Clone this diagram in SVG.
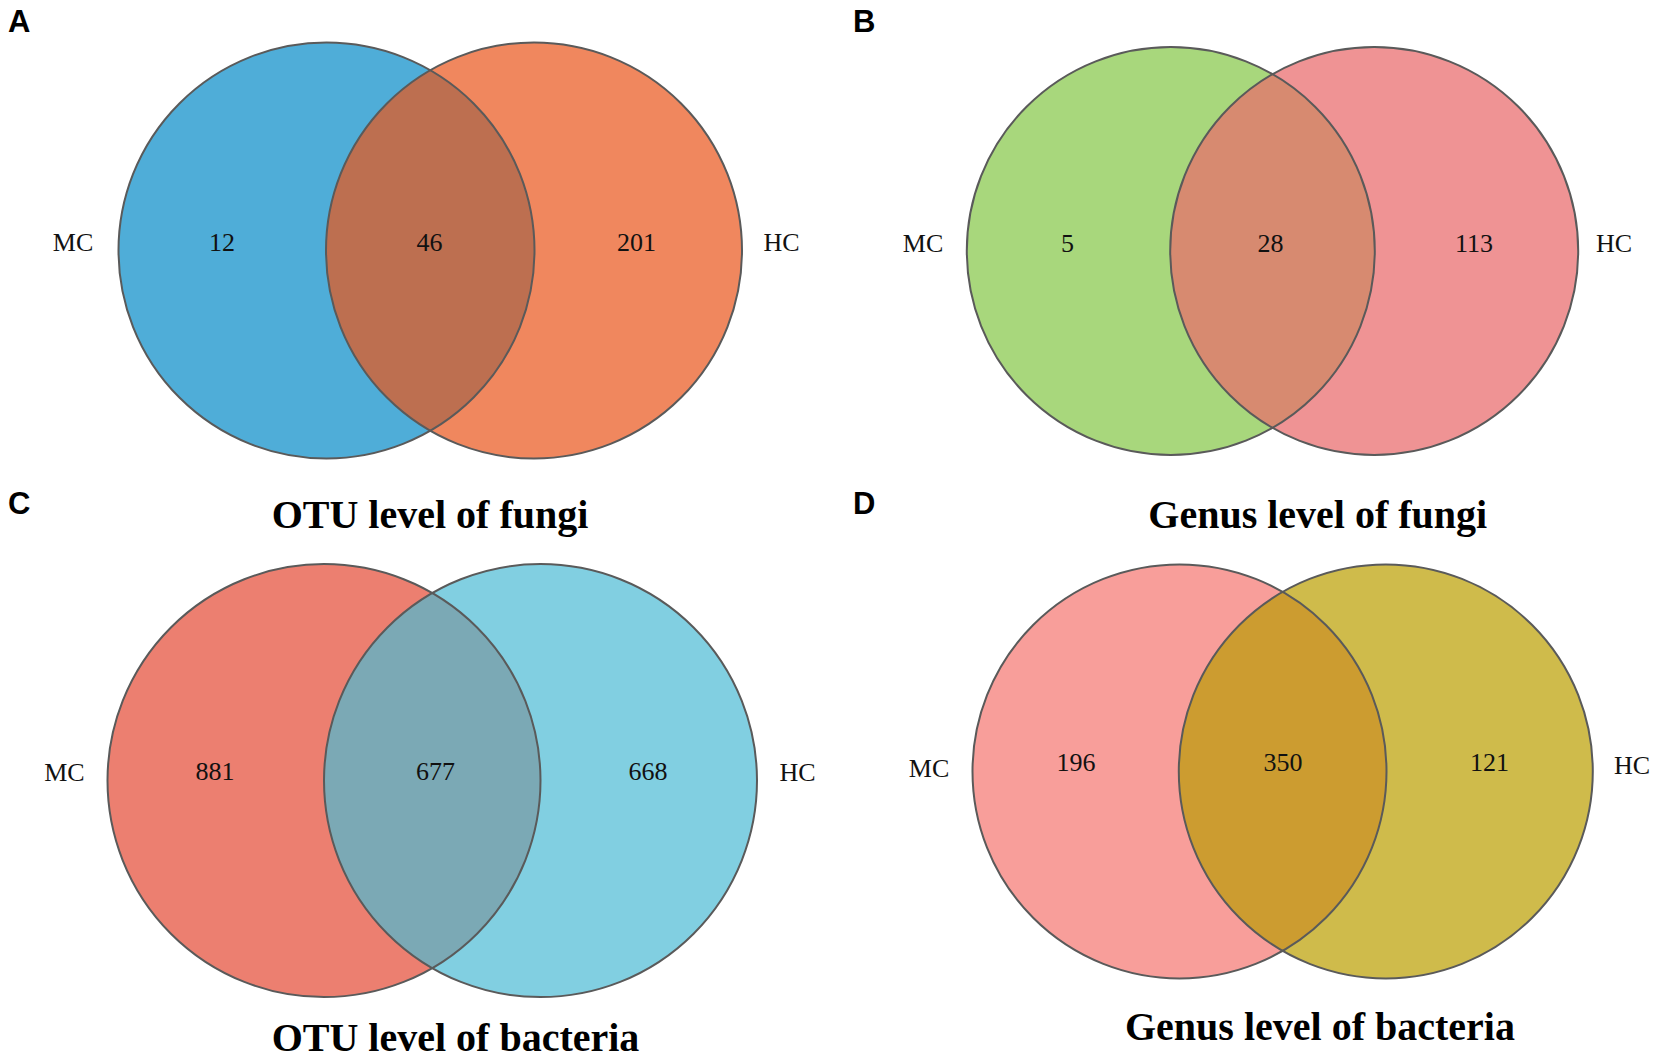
<svg xmlns="http://www.w3.org/2000/svg" width="1653" height="1059" viewBox="0 0 1653 1059">
<style>
.bg{fill:#ffffff}
.ring{fill:none;stroke:#5a5a5a;stroke-width:2}
.lbl{font-family:"Liberation Serif","Times New Roman",serif;font-size:26px;fill:#111;text-anchor:middle}
.ttl{font-family:"Liberation Serif","Times New Roman",serif;font-size:40px;font-weight:bold;fill:#000}
.pl{font-family:"Liberation Sans",Arial,sans-serif;font-size:31px;font-weight:bold;fill:#000}
</style>
<rect class="bg" x="0" y="0" width="1653" height="1059"/>

<g id="panelA">
<circle cx="326.5" cy="250.5" r="208" fill="#4fadd8"/>
<circle cx="534" cy="250.5" r="208" fill="#f0875e"/>
<path d="M430.25,70.22 A208,208 0 0 1 430.25,430.78 A208,208 0 0 1 430.25,70.22 Z" fill="#bd6f50"/>
<circle class="ring" cx="326.5" cy="250.5" r="208"/>
<circle class="ring" cx="534" cy="250.5" r="208"/>
<text class="pl" x="8" y="31.5">A</text>
<text class="lbl" x="73" y="251">MC</text>
<text class="lbl" x="222" y="251">12</text>
<text class="lbl" x="429.5" y="251">46</text>
<text class="lbl" x="636.5" y="251">201</text>
<text class="lbl" x="781.5" y="251">HC</text>
<text class="ttl" x="271.7" y="528">OTU level of fungi</text>
</g>

<g id="panelB">
<circle cx="1170.8" cy="251" r="204" fill="#a8d77c"/>
<circle cx="1374.2" cy="251" r="204" fill="#ef9394"/>
<path d="M1272.5,74.16 A204,204 0 0 1 1272.5,427.84 A204,204 0 0 1 1272.5,74.16 Z" fill="#d78a70"/>
<circle class="ring" cx="1170.8" cy="251" r="204"/>
<circle class="ring" cx="1374.2" cy="251" r="204"/>
<text class="pl" x="853" y="31.5">B</text>
<text class="lbl" x="923" y="252">MC</text>
<text class="lbl" x="1067.5" y="252">5</text>
<text class="lbl" x="1270.5" y="252">28</text>
<text class="lbl" x="1474" y="252">113</text>
<text class="lbl" x="1614" y="252">HC</text>
<text class="ttl" x="1148.3" y="527.7">Genus level of fungi</text>
</g>

<g id="panelC">
<circle cx="324" cy="780.6" r="216.5" fill="#ec7f70"/>
<circle cx="540.5" cy="780.6" r="216.5" fill="#81cfe1"/>
<path d="M432.25,593.12 A216.5,216.5 0 0 1 432.25,968.08 A216.5,216.5 0 0 1 432.25,593.12 Z" fill="#7ba9b5"/>
<circle class="ring" cx="324" cy="780.6" r="216.5"/>
<circle class="ring" cx="540.5" cy="780.6" r="216.5"/>
<text class="pl" x="8" y="514">C</text>
<text class="lbl" x="64.4" y="781">MC</text>
<text class="lbl" x="215" y="780">881</text>
<text class="lbl" x="435.5" y="780">677</text>
<text class="lbl" x="648" y="780">668</text>
<text class="lbl" x="797.5" y="781">HC</text>
<text class="ttl" x="271.7" y="1051">OTU level of bacteria</text>
</g>

<g id="panelD">
<circle cx="1179.5" cy="771.4" r="207" fill="#f89e9a"/>
<circle cx="1385.8" cy="771.4" r="207" fill="#cfbb4b"/>
<path d="M1282.65,591.93 A207,207 0 0 1 1282.65,950.87 A207,207 0 0 1 1282.65,591.93 Z" fill="#cc9c30"/>
<circle class="ring" cx="1179.5" cy="771.4" r="207"/>
<circle class="ring" cx="1385.8" cy="771.4" r="207"/>
<text class="pl" x="853" y="514">D</text>
<text class="lbl" x="929" y="776.5">MC</text>
<text class="lbl" x="1076" y="771">196</text>
<text class="lbl" x="1283" y="771">350</text>
<text class="lbl" x="1489.6" y="771">121</text>
<text class="lbl" x="1632" y="773.5">HC</text>
<text class="ttl" x="1125" y="1040">Genus level of bacteria</text>
</g>

<g id="connectors"></g>
</svg>
